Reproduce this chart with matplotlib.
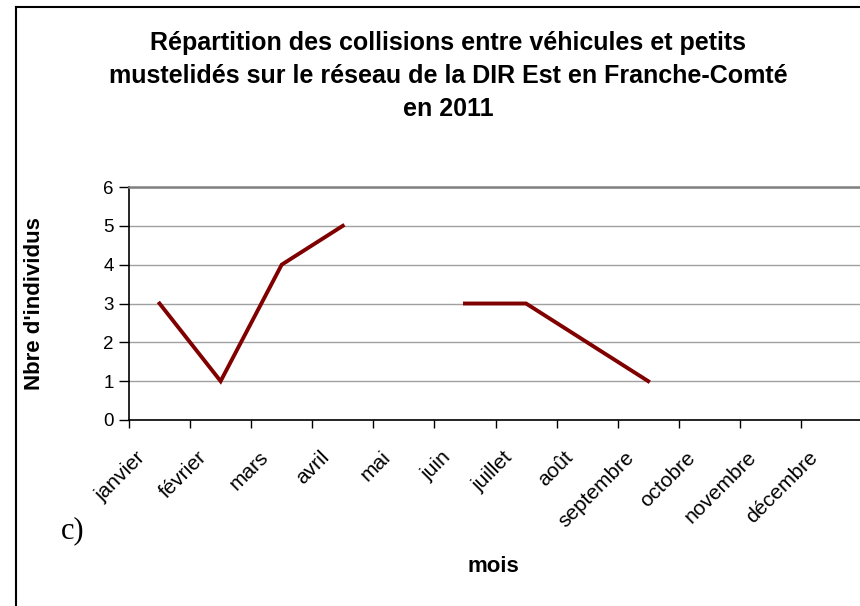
import numpy as np
import matplotlib.pyplot as plt
import matplotlib.transforms as mtransforms
from matplotlib.lines import Line2D

# données
mois = ['janvier', 'février', 'mars', 'avril', 'mai', 'juin', 'juillet',
        'août', 'septembre', 'octobre', 'novembre', 'décembre']
individus = [3, 1, 4, 5, np.nan, 3, 3, 2, 1, np.nan, np.nan, np.nan]
y_ticks = [0, 1, 2, 3, 4, 5, 6]

titre = ("Répartition des collisions entre véhicules et petits\n"
         "mustelidés sur le réseau de la DIR Est en Franche-Comté\n"
         "en 2011")

plt.rcParams['font.family'] = ['Liberation Sans', 'DejaVu Sans']

fig = plt.figure(figsize=(8.6, 6.06), dpi=100)
# le graphique dépasse un peu du bord droit de l'image
ax = fig.add_axes([129 / 860, 1 - 420 / 606, 733 / 860, 233 / 606])

x = np.arange(len(mois))
ax.plot(x, individus, color='#800000', lw=2.8, solid_joinstyle='miter')

ax.set_xlim(-0.5, len(mois) - 0.5)
ax.set_ylim(0, 6)
ax.set_yticks(y_ticks)
ax.yaxis.grid(True, color='#a0a0a0', lw=1)
ax.set_axisbelow(True)

ax.set_xticks(x)
ax.set_xticklabels(mois, rotation=45, ha='right', va='top')
ax.set_xticks(np.arange(len(mois) + 1) - 0.5, minor=True)
ax.tick_params(axis='x', which='major', length=0, pad=20, labelsize=15)
ax.tick_params(axis='x', which='minor', length=6, width=1, direction='out')
ax.tick_params(axis='y', length=7, width=1, direction='out', labelsize=13.5, pad=4)

# décalage des étiquettes vers la gauche comme dans Excel
decal = mtransforms.ScaledTranslation(-10 / 100, 0, fig.dpi_scale_trans)
for lab in ax.get_xticklabels():
    lab.set_transform(lab.get_transform() + decal)

ax.spines['right'].set_visible(False)
ax.spines['top'].set_color('#808080')
ax.spines['top'].set_linewidth(1.8)
ax.spines['left'].set_linewidth(1.2)
ax.spines['bottom'].set_linewidth(1.2)

fig.text(448 / 860, 1 - 76 / 606, titre, ha='center', va='center',
         fontsize=18, fontweight='bold', linespacing=1.48)
fig.text(35 / 860, 1 - 304 / 606, "Nbre d'individus", rotation=90,
         ha='center', va='center', fontsize=16, fontweight='bold')
fig.text(493 / 860, 1 - 566 / 606, 'mois', ha='center', va='center',
         fontsize=16, fontweight='bold')
fig.text(73 / 860, 1 - 531 / 606, 'c)', ha='center', va='center',
         fontsize=22, family='Liberation Serif')

# cadre gauche et haut
fig.add_artist(Line2D([16 / 860, 16 / 860], [0, 1 - 7 / 606], color='black', lw=1.5))
fig.add_artist(Line2D([16 / 860, 1], [1 - 7 / 606, 1 - 7 / 606], color='black', lw=1.5))

fig.savefig('out.png', dpi=100)
